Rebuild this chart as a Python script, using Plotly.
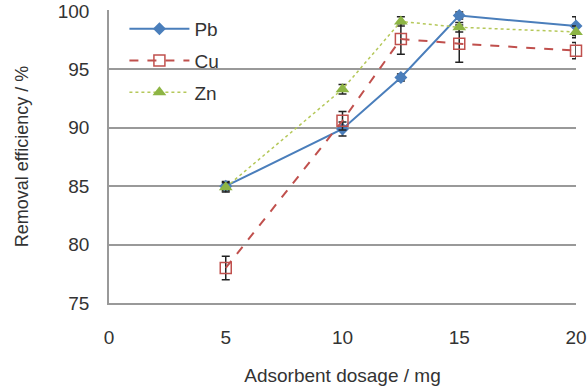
import plotly.graph_objects as go

dosage = [5, 10, 12.5, 15, 20]
pb = [85.0, 89.9, 94.3, 99.6, 98.7]
pb_err = [0.4, 0.6, 0.3, 0.3, 0.8]
cu = [78.0, 90.6, 97.6, 97.2, 96.6]
cu_err = [1.0, 0.8, 1.3, 1.6, 0.7]
zn = [84.9, 93.3, 99.1, 98.6, 98.2]
zn_err = [0.4, 0.4, 0.4, 0.4, 0.5]

fig = go.Figure()
fig.add_trace(go.Scatter(
    x=dosage, y=pb, name="Pb", mode="lines+markers", legendgroup="a",
    line=dict(color="#4A7EBB", width=2, dash="solid"),
    marker=dict(symbol="diamond", size=10, color="#4A7EBB"),
    error_y=dict(type="data", array=pb_err, color="#222", thickness=1.5, width=4),
    cliponaxis=False,
))
fig.add_trace(go.Scatter(
    x=dosage, y=cu, name="Cu", mode="lines+markers", legendgroup="b",
    line=dict(color="#C0504D", width=2, dash="dash"),
    marker=dict(symbol="square-open", size=11, color="#C0504D", line=dict(width=1.5)),
    error_y=dict(type="data", array=cu_err, color="#222", thickness=1.5, width=4),
    cliponaxis=False,
))
fig.add_trace(go.Scatter(
    x=dosage, y=zn, name="Zn", mode="lines+markers", legendgroup="c",
    line=dict(color="#B5C85A", width=1.5, dash="dot"),
    marker=dict(symbol="triangle-up", size=12, color="#8DB544"),
    error_y=dict(type="data", array=zn_err, color="#222", thickness=1.5, width=4),
    cliponaxis=False,
))

fig.update_layout(
    width=587, height=390,
    margin=dict(l=109, r=11, t=10, b=87),
    paper_bgcolor="white", plot_bgcolor="white",
    font=dict(family="Liberation Sans, Arial, sans-serif", size=19, color="#333"),
    showlegend=True,
    legend=dict(x=0.033, y=1.0, xanchor="left", yanchor="top",
                bgcolor="rgba(255,255,255,0)", traceorder="grouped",
                tracegroupgap=4, itemwidth=60, font=dict(size=19, color="#333")),
    xaxis=dict(range=[0, 20], tickvals=[0, 5, 10, 15, 20], showgrid=False,
               showline=True, linecolor="#999", linewidth=1.5, zeroline=False,
               ticks="", ticklabelstandoff=16, ticklabeloverflow="allow",
               automargin=False,
               tickfont=dict(size=19, color="#333"),
               title=dict(text="Adsorbent dosage / mg", standoff=22,
                          font=dict(size=19, color="#333"))),
    yaxis=dict(range=[75, 100.08], tickvals=[75, 80, 85, 90, 95, 100], showgrid=True,
               gridcolor="#999", gridwidth=1.5, showline=True, linecolor="#999",
               linewidth=1.5, zeroline=False, ticks="", ticklabelstandoff=14,
               ticklabeloverflow="allow", automargin=False,
               tickfont=dict(size=19, color="#333"),
               title=dict(text="Removal efficiency / %", standoff=24,
                          font=dict(size=18, color="#333"))),
)

fig.write_html("out.html")
